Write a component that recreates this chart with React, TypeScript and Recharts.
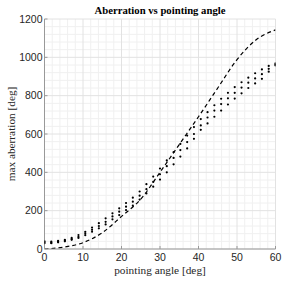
import React from 'react';
import { ComposedChart, Scatter, Line, XAxis, YAxis, CartesianGrid } from 'recharts';

const angles = [0, 1.76, 3.53, 5.29, 7.06, 8.82, 10.59, 12.35, 14.12, 15.88, 17.65, 19.41, 21.18, 22.94, 24.71, 26.47, 28.24, 30, 31.76, 33.53, 35.29, 37.06, 38.82, 40.59, 42.35, 44.12, 45.88, 47.65, 49.41, 51.18, 52.94, 54.71, 56.47, 58.24, 60];
const seriesA = [40, 38, 42, 48, 58, 73, 90, 112, 135, 160, 186, 212, 240, 268, 300, 338, 378, 420, 462, 505, 548, 592, 636, 678, 714, 750, 784, 815, 845, 870, 894, 917, 937, 955, 968];
const seriesB = [35, 33, 38, 44, 52, 64, 82, 100, 120, 142, 170, 195, 221, 247, 278, 312, 350, 390, 432, 475, 516, 558, 600, 645, 686, 722, 756, 786, 815, 842, 868, 890, 912, 940, 962];
const seriesC = [30, 30, 35, 40, 48, 58, 72, 90, 108, 128, 155, 177, 203, 226, 258, 290, 325, 362, 400, 442, 482, 525, 575, 622, 655, 690, 722, 754, 785, 812, 840, 864, 888, 925, 958];

const curveAngles = [0, 5, 10, 15, 20, 25, 30, 35, 40, 45, 50, 55, 60];
const curveValues = [0, 10, 33, 85, 170, 260, 400, 545, 690, 840, 988, 1092, 1143];

const xTicks = [0, 10, 20, 30, 40, 50, 60];
const yTicks = [0, 200, 400, 600, 800, 1000, 1200];
const xMinor = [2, 4, 6, 8, 12, 14, 16, 18, 22, 24, 26, 28, 32, 34, 36, 38, 42, 44, 46, 48, 52, 54, 56, 58];
const yMinor = [40, 80, 120, 160, 240, 280, 320, 360, 440, 480, 520, 560, 640, 680, 720, 760, 840, 880, 920, 960, 1040, 1080, 1120, 1160];

const toPts = (ys: number[]) => angles.map((x, i) => ({ x, y: ys[i] }));
const dataA = toPts(seriesA);
const dataB = toPts(seriesB);
const dataC = toPts(seriesC);
const curveData = curveAngles.map((x, i) => ({ x, y: curveValues[i] }));

const Dot = (p: any) => <circle cx={p.cx} cy={p.cy} r={1.1} fill="#000" />;

const tickStyle = { fontSize: 10.5, fill: '#262626', fontFamily: '"Liberation Sans", Arial, sans-serif' };

const XLabel = (props: any) => {
  const vb = props.viewBox;
  return (
    <text x={vb.x + vb.width / 2} y={273.5} textAnchor="middle" fontSize={11.3} fill="#262626" fontFamily='"Liberation Serif", "Times New Roman", serif'>
      pointing angle [deg]
    </text>
  );
};

const YLabel = (props: any) => {
  const vb = props.viewBox;
  const cy = vb.y + vb.height / 2;
  return (
    <text x={15} y={cy} transform={`rotate(-90 15 ${cy})`} textAnchor="middle" fontSize={11.3} fill="#262626" fontFamily='"Liberation Serif", "Times New Roman", serif'>
      max aberration [deg]
    </text>
  );
};

export default function App() {
  return (
    <div style={{ position: 'absolute', left: 0, top: 0, width: 286, height: 283, background: '#fff' }}>
      <div style={{ position: 'absolute', left: 44.5, top: 4.4, width: 231, textAlign: 'center', fontFamily: '"Liberation Serif", "Times New Roman", serif', fontWeight: 'bold', fontSize: 10.7, lineHeight: '12px', color: '#000' }}>
        Aberration vs pointing angle
      </div>
      <ComposedChart width={286} height={283} margin={{ top: 19, right: 10.5, bottom: 0, left: 0 }}>
        <CartesianGrid verticalValues={xMinor} horizontalValues={yMinor} stroke="#f0f0f0" strokeWidth={1} />
        <CartesianGrid verticalValues={xTicks} horizontalValues={yTicks} stroke="#e2e2e2" strokeWidth={1} />
        <XAxis dataKey="x" type="number" domain={[0, 60]} ticks={xTicks} height={34} stroke="#999" tickSize={-3} tickMargin={8} tick={tickStyle} interval={0} label={<XLabel />} allowDataOverflow />
        <XAxis xAxisId="top" orientation="top" dataKey="x" type="number" domain={[0, 60]} ticks={xTicks} height={0} stroke="#999" tickSize={-3} tick={false} />
        <YAxis dataKey="y" type="number" domain={[0, 1200]} ticks={yTicks} width={44.5} stroke="#999" tickSize={-3} tickMargin={5} tick={tickStyle} interval={0} label={<YLabel />} allowDataOverflow />
        <YAxis yAxisId="right" orientation="right" type="number" domain={[0, 1200]} ticks={yTicks} width={0} stroke="#999" tickSize={-3} tick={false} />
        <Line data={curveData} dataKey="y" type="monotone" stroke="#000" strokeWidth={1.2} strokeDasharray="4 3" dot={false} activeDot={false} isAnimationActive={false} />
        <Scatter data={dataA} dataKey="y" shape={Dot} isAnimationActive={false} />
        <Scatter data={dataB} dataKey="y" shape={Dot} isAnimationActive={false} />
        <Scatter data={dataC} dataKey="y" shape={Dot} isAnimationActive={false} />
      </ComposedChart>
    </div>
  );
}
